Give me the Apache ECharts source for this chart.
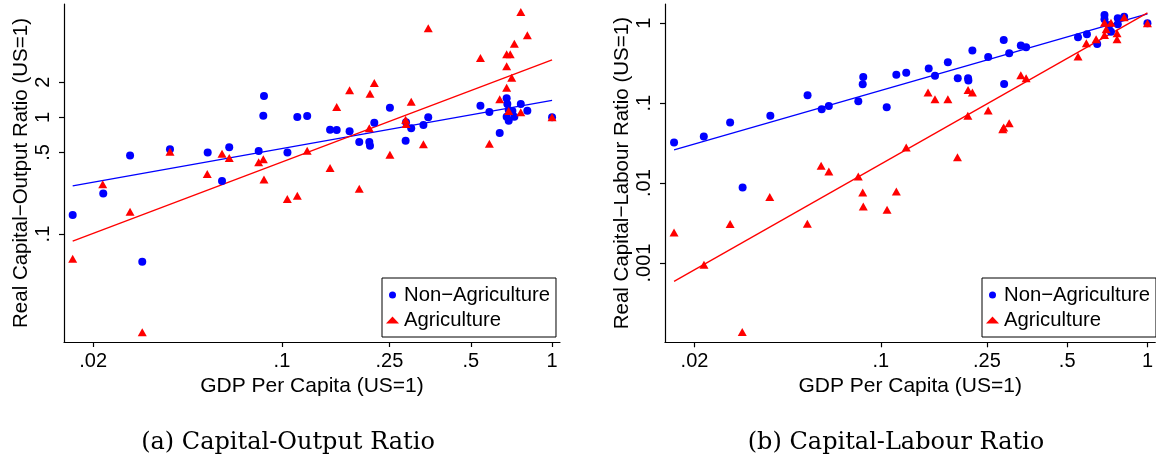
<!DOCTYPE html>
<html>
<head>
<meta charset="utf-8">
<title>Capital ratios vs GDP per capita</title>
<script src="https://cdn.jsdelivr.net/npm/echarts@6/dist/echarts.min.js"></script>
<style>
  html, body { margin: 0; padding: 0; background: #fff; }
  #chart { width: 1156px; height: 462px; }
</style>
</head>
<body>
<div id="chart"></div>
<script>
// (a) capital-output ratio, [GDP per capita, ratio], US = 1
var coNonAgri = [
  [0.0168,0.146],[0.0218,0.223],[0.0274,0.472],[0.0304,0.058],[0.0385,0.532],[0.0531,0.501],
  [0.060,0.285],[0.0638,0.553],[0.082,0.514],[0.0853,1.03],[0.0858,1.52],[0.1048,0.501],
  [0.114,1.006],[0.124,1.026],[0.1507,0.783],[0.1595,0.778],[0.178,0.759],[0.1933,0.614],
  [0.2106,0.614],[0.2118,0.571],[0.2197,0.899],[0.251,1.209],[0.287,0.630],[0.288,0.906],
  [0.301,0.805],[0.334,0.859],[0.348,1.0],[0.543,1.257],[0.586,1.110],[0.640,0.734],
  [0.679,1.455],[0.683,1.30],[0.691,1.155],[0.679,1.012],[0.691,0.935],[0.713,1.132],
  [0.725,1.012],[0.766,1.30],[0.810,1.139],[1,1]
];
var coAgri = [
  [0.0168,0.0614],[0.0217,0.267],[0.0274,0.155],[0.0304,0.0144],[0.0385,0.507],[0.0529,0.327],
  [0.060,0.488],[0.0638,0.448],[0.082,0.412],[0.0853,0.437],[0.0858,0.294],[0.1047,0.200],
  [0.114,0.213],[0.124,0.517],[0.1507,0.368],[0.1595,1.225],[0.178,1.704],[0.1933,0.245],
  [0.2106,0.805],[0.2118,1.593],[0.2197,1.967],[0.251,0.478],[0.287,0.954],[0.288,0.877],
  [0.301,1.36],[0.334,0.587],[0.348,5.79],[0.543,3.22],[0.586,0.594],[0.640,1.426],
  [0.679,1.793],[0.679,2.735],[0.679,3.47],[0.700,3.47],[0.709,2.185],[0.691,1.132],
  [0.725,4.27],[0.766,7.99],[0.810,5.04],[0.766,1.104],[1,1]
];
var coFitNonAgri = [[0.0168,0.259],[1,1.40]];
var coFitAgri = [[0.0168,0.087],[1,3.10]];

// (b) capital-labour ratio
var clNonAgri = [
  [0.01676,0.0322],[0.02167,0.0382],[0.0272,0.0572],[0.0303,0.00881],[0.0385,0.0694],[0.0531,0.126],
  [0.060,0.0841],[0.0638,0.0925],[0.0823,0.106],[0.0855,0.173],[0.0859,0.213],[0.1052,0.0891],
  [0.1143,0.226],[0.1245,0.241],[0.1512,0.271],[0.1596,0.2195],[0.1784,0.3255],[0.1943,0.2054],
  [0.2124,0.2054],[0.2130,0.1916],[0.2205,0.4545],[0.2527,0.379],[0.289,0.618],[0.303,0.4217],
  [0.290,0.1742],[0.335,0.525],[0.3507,0.501],[0.549,0.668],[0.593,0.729],[0.648,0.551],
  [0.690,1.27],[0.690,1.122],[0.720,0.952],[0.730,0.785],[0.774,1.155],[0.774,0.972],
  [0.818,1.209],[1,1]
];
var clAgri = [
  [0.01676,0.00241],[0.0217,0.000952],[0.0272,0.00307],[0.0302,0.000137],[0.0383,0.00668],[0.0530,0.0031],
  [0.0597,0.01644],[0.0638,0.01396],[0.0823,0.01209],[0.0855,0.00763],[0.0859,0.0051],[0.1055,0.00464],
  [0.1143,0.00785],[0.1245,0.0279],[0.1503,0.1357],[0.1596,0.1122],[0.1784,0.1122],[0.1938,0.0211],
  [0.2124,0.1466],[0.2205,0.1357],[0.212,0.0694],[0.2527,0.0808],[0.289,0.0495],[0.2866,0.0473],
  [0.303,0.0562],[0.335,0.2239],[0.3507,0.2054],[0.549,0.3825],[0.590,0.5623],[0.642,0.631],
  [0.690,0.714],[0.690,1.017],[0.700,0.841],[0.730,1.017],[0.769,0.750],[0.769,0.631],
  [0.818,1.189],[1,1]
];
var clFitNonAgri = [[0.01676,0.0261],[1,1.31]];
var clFitAgri = [[0.01676,0.00059],[1,1.35]];

// tick positions and labels
var gdpTicks = [0.02, 0.1, 0.25, 0.5, 1];
var gdpTickLabels = ['.02', '.1', '.25', '.5', '1'];
var coTicks = [0.1, 0.5, 1, 2];
var coTickLabels = ['.1', '.5', '1', '2'];
var clTicks = [0.001, 0.01, 0.1, 1];
var clTickLabels = ['.001', '.01', '.1', '1'];

var FONT = '"Liberation Sans", Arial, Helvetica, sans-serif';
var BLUE = '#0000ff', RED = '#ff0000';

function lg(v) { return Math.log10(v); }
function toLog(pts) { return pts.map(function (p) { return [lg(p[0]), lg(p[1])]; }); }

// log axis drawn as a value axis over log10 values
function logAxis(gridIndex, range, ticks, labels, name, isY) {
    var vals = ticks.map(lg);
    return {
        type: 'value', gridIndex: gridIndex,
        min: lg(range[0]), max: lg(range[1]),
        name: name, nameLocation: 'middle', nameGap: isY ? 32 : 29,
        nameTextStyle: { fontFamily: FONT, fontSize: isY ? 20.5 : 21, color: '#000' },
        axisLine: { show: true, onZero: false, lineStyle: { color: '#000', width: 1.2 } },
        axisTick: { show: true, length: 5, customValues: vals, lineStyle: { color: '#000', width: 1.2 } },
        axisLabel: {
            customValues: vals, rotate: isY ? 90 : 0, margin: isY ? 11 : 9,
            fontFamily: FONT, fontSize: 20, color: '#000',
            formatter: function (v) {
                for (var i = 0; i < vals.length; i++) {
                    if (Math.abs(vals[i] - v) < 1e-6) return labels[i];
                }
                return '';
            }
        },
        splitLine: { show: false }
    };
}

function legendAt(left) {
    return {
        left: left, top: 278, orient: 'vertical',
        backgroundColor: '#fff', borderColor: '#000', borderWidth: 1,
        padding: [6, 6, 6, 4], itemWidth: 13, itemHeight: 7, itemGap: 3,
        selectedMode: false,
        textStyle: { fontFamily: FONT, fontSize: 20.3, color: '#000', lineHeight: 22 },
        data: [{ name: 'Non−Agriculture', icon: 'circle' }, { name: 'Agriculture', icon: 'triangle' }]
    };
}

function dots(name, idx, data, color, symbol) {
    return {
        name: name, type: 'scatter', xAxisIndex: idx, yAxisIndex: idx,
        data: toLog(data), symbol: symbol, symbolSize: symbol === 'circle' ? 8 : [9, 8],
        itemStyle: { color: color, opacity: 1 }, z: 3
    };
}
function fit(idx, data, color) {
    return {
        name: 'fit', type: 'line', xAxisIndex: idx, yAxisIndex: idx,
        data: toLog(data), symbol: 'none', z: 2,
        lineStyle: { color: color, width: 1.3 }
    };
}

var captionStyle = { fontFamily: '"DejaVu Serif", serif', fontSize: 24, fontWeight: 'normal', color: '#000' };

var chart = echarts.init(document.getElementById('chart'), null, { renderer: 'canvas' });
chart.setOption({
    animation: false,
    backgroundColor: '#fff',
    title: [
        { text: '(a) Capital-Output Ratio', left: 283, top: 426, textAlign: 'center', textStyle: captionStyle },
        { text: '(b) Capital-Labour Ratio', left: 891, top: 426, textAlign: 'center', textStyle: captionStyle }
    ],
    legend: [legendAt(382), legendAt(982)],
    grid: [
        { left: 64, top: 4, width: 496, height: 338 },
        { left: 665, top: 4, width: 494.7, height: 338.3 }
    ],
    xAxis: [
        logAxis(0, [0.0156, 1.07], gdpTicks, gdpTickLabels, 'GDP Per Capita (US=1)', false),
        logAxis(1, [0.0155, 1.07], gdpTicks, gdpTickLabels, 'GDP Per Capita (US=1)', false)
    ],
    yAxis: [
        logAxis(0, [0.0119, 9.35], coTicks, coTickLabels, 'Real Capital−Output Ratio (US=1)', true),
        logAxis(1, [0.000102, 1.74], clTicks, clTickLabels, 'Real Capital−Labour Ratio (US=1)', true)
    ],
    series: [
        fit(0, coFitNonAgri, BLUE),
        fit(0, coFitAgri, RED),
        dots('Non−Agriculture', 0, coNonAgri, BLUE, 'circle'),
        dots('Agriculture', 0, coAgri, RED, 'triangle'),
        fit(1, clFitNonAgri, BLUE),
        fit(1, clFitAgri, RED),
        dots('Non−Agriculture', 1, clNonAgri, BLUE, 'circle'),
        dots('Agriculture', 1, clAgri, RED, 'triangle')
    ]
});
</script>
</body>
</html>
